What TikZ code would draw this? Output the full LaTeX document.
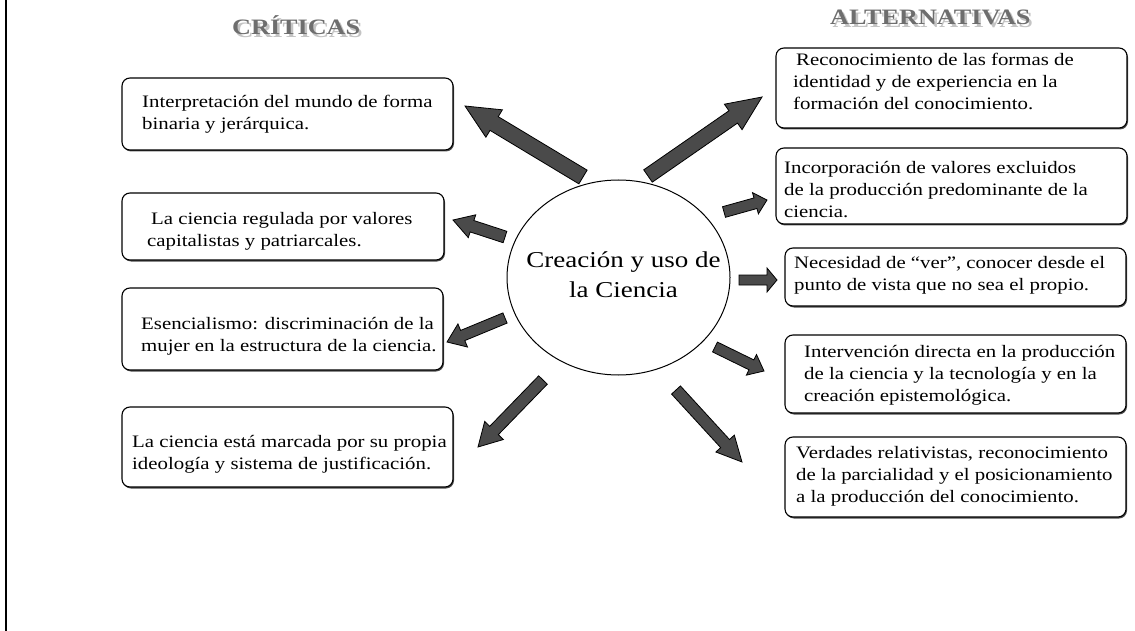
\documentclass[tikz,border=0pt]{standalone}
\usepackage{fontspec}
\setmainfont{Liberation Serif}[FakeStretch=1.19]
\usetikzlibrary{calc,shapes.geometric,shadows}
\definecolor{arrowfill}{HTML}{4A4A4A}
\definecolor{headgray}{HTML}{6E6E6E}
\definecolor{headshadow}{HTML}{C4C4C4}
\newcommand\lns[2][l]{\begin{tabular}[t]{@{}#1@{}}#2\end{tabular}}
\newcommand\shadowed[1]{\rlap{\hspace{2.5pt}\raisebox{-2.5pt}{\textcolor{headshadow}{#1}}}#1}
\newcommand\blockarr[5]{%
  \path let \p1=($(#2)-(#1)$) in
    \pgfextra{\pgfmathsetmacro\tmpang{atan2(\y1,\x1)}\xdef\arrang{\tmpang}%
              \pgfmathsetmacro\tmplen{veclen(\x1,\y1)}\xdef\arrlen{\tmplen}};
  \pgfmathsetmacro\arrbase{\arrlen-#5}%
  \begin{scope}[shift={(#1)},rotate=\arrang]
    \draw[blockarrow] (0,-#3/2) -- (\arrbase,-#3/2) -- (\arrbase,-#4/2) -- (\arrlen,0)
      -- (\arrbase,#4/2) -- (\arrbase,#3/2) -- (0,#3/2) -- cycle;
  \end{scope}}
\tikzset{
  blockarrow/.style={draw=black, fill=arrowfill, line width=0.8pt, line join=miter},
  boxst/.style={draw=black, fill=white, rounded corners=8pt, line width=1.1pt, inner sep=0pt,
    drop shadow={shadow xshift=1pt, shadow yshift=-1.5pt, fill=black!70, opacity=1}},
  txt/.style={inner sep=0pt, anchor=base west, font=\fontsize{17.5}{22}\selectfont},
  hdr/.style={inner sep=0pt, anchor=base west, text=headgray, font=\fontsize{22}{26}\selectfont\bfseries},
}
\begin{document}
\begin{tikzpicture}[x=1pt,y=1pt]
\useasboundingbox (0,0) rectangle (1135,-631);
\draw[line width=1.3pt] (6,0) -- (6,-631);

% headers
\node[hdr] (h1) at (232,-35) {\shadowed{CRÍTICAS}};
\node[hdr] (h2) at (830,-25) {\shadowed{ALTERNATIVAS}};

% centre
\node[draw, ellipse, minimum width=223pt, minimum height=195pt, inner sep=0pt, line width=1pt] (c) at (618.5,-277.5) {};
\node[inner sep=0pt, anchor=base, font=\fontsize{22.7}{30}\selectfont] (ct) at (623.5,-267) {\lns[c]{Creación y uso de\\la Ciencia}};

% left boxes
\node[boxst, minimum width=331pt, minimum height=72pt] (b1) at (287.5,-114) {};
\node[boxst, minimum width=322pt, minimum height=67pt] (b2) at (283,-226.5) {};
\node[boxst, minimum width=321pt, minimum height=82pt] (b3) at (282.5,-329) {};
\node[boxst, minimum width=331pt, minimum height=80pt] (b4) at (287.5,-447) {};
\node[txt] (t1) at (142,-108) {\lns{Interpretación del mundo de forma\\binaria y jerárquica.}};
\node[txt] (t2) at (147,-225) {\lns{\hspace{4pt}La ciencia regulada por valores\\capitalistas y patriarcales.}};
\node[txt] (t3) at (141,-329) {\lns{Esencialismo: discriminación de la\\mujer en la estructura de la ciencia.}};
\node[txt] (t4) at (132,-447) {\lns{La ciencia está marcada por su propia\\ideología y sistema de justificación.}};

% right boxes
\node[boxst, minimum width=351pt, minimum height=80pt] (r1) at (951.5,-88) {};
\node[boxst, minimum width=351pt, minimum height=76pt] (r2) at (951.5,-186) {};
\node[boxst, minimum width=341pt, minimum height=58pt] (r3) at (955.5,-277) {};
\node[boxst, minimum width=341pt, minimum height=78pt] (r4) at (955.5,-374) {};
\node[boxst, minimum width=341pt, minimum height=80pt] (r5) at (955.5,-477) {};
\node[txt] (s1) at (793,-66) {\lns{\hspace{3pt}Reconocimiento de las formas de\\identidad y de experiencia en la\\formación del conocimiento.}};
\node[txt] (s2) at (784,-174) {\lns{Incorporación de valores excluidos\\de la producción predominante de la\\ciencia.}};
\node[txt] (s3) at (794,-268) {\lns{Necesidad de “ver”, conocer desde el\\punto de vista que no sea el propio.}};
\node[txt] (s4) at (804,-357) {\lns{Intervención directa en la producción\\de la ciencia y la tecnología y en la\\creación epistemológica.}};
\node[txt] (s5) at (796,-458) {\lns{Verdades relativistas, reconocimiento\\de la parcialidad y el posicionamiento\\a la producción del conocimiento.}};

% arrow ends
\coordinate (a1s) at (583,-177); \coordinate (a1e) at (465,-106);
\coordinate (a2s) at (505,-237); \coordinate (a2e) at (453,-220);
\coordinate (a3s) at (505,-318); \coordinate (a3e) at (447,-342);
\coordinate (a4s) at (543,-380); \coordinate (a4e) at (478,-447);
\coordinate (a5s) at (648,-176); \coordinate (a5e) at (762,-97);
\coordinate (a6s) at (724,-212); \coordinate (a6e) at (767,-200);
\coordinate (a7s) at (739,-280); \coordinate (a7e) at (777,-280);
\coordinate (a8s) at (715,-347); \coordinate (a8e) at (764,-371);
\coordinate (a9s) at (676,-390); \coordinate (a9e) at (742,-462);

\blockarr{a1s}{a1e}{16}{32}{34}
\blockarr{a2s}{a2e}{12}{24}{20}
\blockarr{a3s}{a3e}{11}{25}{17}
\blockarr{a4s}{a4e}{12}{26}{23}
\blockarr{a5s}{a5e}{15}{31}{35}
\blockarr{a6s}{a6e}{11}{22}{12}
\blockarr{a7s}{a7e}{10}{24}{10}
\blockarr{a8s}{a8e}{11}{23}{14}
\blockarr{a9s}{a9e}{12}{25}{25}
\end{tikzpicture}
\end{document}
